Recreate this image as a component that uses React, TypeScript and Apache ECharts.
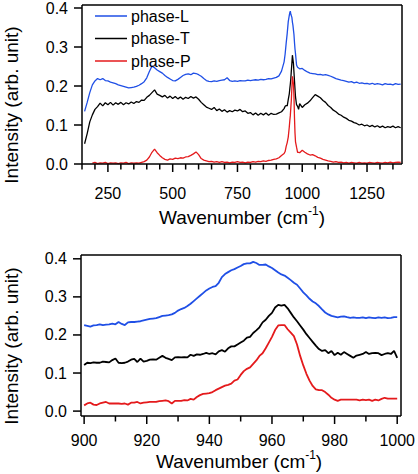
import React, { useEffect, useRef } from "react";
import * as echarts from "echarts";

// ---------- data ----------
const topWavenumbers = [
  160, 170, 180, 190, 200, 210, 220, 230, 240, 250, 260, 270, 280, 290, 300, 310, 320, 330, 340, 350,
  360, 370, 380, 390, 400, 410, 420, 430, 440, 450, 460, 470, 480, 490, 500, 510, 520, 530, 540, 550,
  560, 570, 580, 590, 600, 610, 620, 630, 640, 650, 660, 670, 680, 690, 700, 710, 720, 730, 740, 750,
  760, 770, 780, 790, 800, 810, 820, 830, 840, 850, 860, 870, 880, 890, 900, 910, 920, 930,
  934, 938, 942, 946, 950, 952, 954, 956, 958, 960, 962, 964, 966, 968, 970, 972, 974, 978, 982, 986,
  990, 1000, 1010, 1020, 1030, 1040, 1050, 1060, 1070, 1080, 1090, 1100, 1110, 1120, 1130, 1140, 1150,
  1160, 1170, 1180, 1190, 1200, 1210, 1220, 1230, 1240, 1250, 1260, 1270, 1280, 1290, 1300, 1310, 1320,
  1330, 1340, 1350, 1360, 1370, 1380,
];

const topPhaseL = [
  0.135, 0.158, 0.183, 0.203, 0.213, 0.219, 0.216, 0.219, 0.214, 0.213, 0.21, 0.208, 0.206, 0.203, 0.201, 0.199, 0.197, 0.195, 0.196, 0.197,
  0.199, 0.202, 0.206, 0.211, 0.221, 0.237, 0.251, 0.247, 0.241, 0.237, 0.233, 0.227, 0.222, 0.218, 0.214, 0.213, 0.217, 0.222, 0.227, 0.23,
  0.231, 0.229, 0.233, 0.232, 0.229, 0.225, 0.219, 0.214, 0.212, 0.211, 0.213, 0.212, 0.214, 0.215, 0.216, 0.221, 0.214, 0.212, 0.213, 0.212,
  0.214, 0.213, 0.213, 0.215, 0.214, 0.215, 0.216, 0.215, 0.217, 0.216, 0.217, 0.219, 0.218, 0.22, 0.222, 0.226, 0.238, 0.262,
  0.282, 0.31, 0.335, 0.365, 0.381, 0.388, 0.392, 0.384, 0.385, 0.376, 0.364, 0.356, 0.344, 0.332, 0.312, 0.295, 0.283, 0.254, 0.248, 0.246,
  0.244, 0.245, 0.24, 0.236, 0.233, 0.232, 0.231, 0.229, 0.23, 0.228, 0.229, 0.227, 0.225, 0.222, 0.219, 0.217, 0.215,
  0.214, 0.212, 0.21, 0.211, 0.208, 0.21, 0.207, 0.208, 0.206, 0.207, 0.205, 0.207, 0.204, 0.206, 0.205, 0.203, 0.206,
  0.204, 0.205, 0.203, 0.206, 0.204, 0.205,
];

const topPhaseT = [
  0.052, 0.078, 0.108, 0.126, 0.14, 0.147, 0.156, 0.149, 0.157, 0.152, 0.158, 0.151, 0.157, 0.153, 0.158, 0.152, 0.157, 0.154, 0.159, 0.155,
  0.16, 0.158, 0.164, 0.163, 0.171, 0.176, 0.183, 0.19, 0.179, 0.176, 0.172, 0.176, 0.169, 0.174, 0.168, 0.173, 0.167, 0.172, 0.166, 0.171,
  0.168, 0.173, 0.169, 0.172, 0.166, 0.158, 0.152, 0.146, 0.143, 0.14, 0.145, 0.137, 0.141, 0.135, 0.139, 0.133, 0.137, 0.134, 0.138, 0.136,
  0.14, 0.134, 0.136, 0.13, 0.132, 0.126, 0.131, 0.125, 0.13, 0.126, 0.131, 0.125, 0.13, 0.127, 0.128, 0.131, 0.134, 0.142,
  0.148, 0.15, 0.149, 0.165, 0.18, 0.193, 0.205, 0.22, 0.24, 0.258, 0.279, 0.279, 0.258, 0.236, 0.214, 0.192, 0.172, 0.152, 0.148, 0.14,
  0.155, 0.145, 0.152, 0.156, 0.162, 0.17, 0.178, 0.174, 0.17, 0.163, 0.158, 0.15, 0.145, 0.138, 0.134, 0.128, 0.125,
  0.12, 0.117, 0.112, 0.11, 0.106, 0.104, 0.1, 0.102, 0.098, 0.1, 0.096, 0.099, 0.095, 0.098, 0.094, 0.097, 0.093,
  0.096, 0.094, 0.097, 0.093, 0.096, 0.093,
];

const topPhaseP = [
  null, null, null, 0.002, 0.004, 0.001, 0.003, 0.002, 0.004, 0.001, 0.003, 0.002, 0.003, 0.001, 0.003, 0.002, 0.004, 0.001, 0.003, 0.002,
  0.003, 0.002, 0.004, 0.006, 0.01, 0.018, 0.03, 0.038, 0.029, 0.022, 0.016, 0.012, 0.01, 0.013, 0.012, 0.015, 0.014, 0.016, 0.015, 0.018,
  0.019, 0.022, 0.026, 0.031, 0.024, 0.014, 0.01, 0.008, 0.006, 0.007, 0.005, 0.006, 0.004, 0.006, 0.004, 0.005, 0.003, 0.005, 0.004, 0.006,
  0.004, 0.005, 0.003, 0.005, 0.004, 0.006, 0.005, 0.007, 0.006, 0.008, 0.007, 0.009, 0.01, 0.012, 0.013, 0.016, 0.022, 0.027,
  0.032, 0.045, 0.055, 0.069, 0.095, 0.111, 0.124, 0.145, 0.165, 0.195, 0.225, 0.226, 0.206, 0.175, 0.12, 0.08, 0.057, 0.043, 0.03, 0.03,
  0.029, 0.035, 0.03, 0.026, 0.023, 0.024, 0.021, 0.017, 0.015, 0.012, 0.01, 0.008, 0.007, 0.005, 0.006, 0.004, 0.005,
  0.003, 0.004, 0.002, 0.004, 0.003, 0.002, 0.004, 0.002, 0.003, 0.002, 0.004, 0.003, 0.002, 0.004, 0.003, 0.002, 0.004,
  0.003, 0.005, 0.003, 0.004, 0.005, 0.004,
];

const bottomWavenumbers = [
  900, 901, 902, 903, 904, 905, 906, 907, 908, 909, 910, 911, 912, 913, 914, 915, 916, 917, 918, 919,
  920, 921, 922, 923, 924, 925, 926, 927, 928, 929, 930, 931, 932, 933, 934, 935, 936, 937, 938, 939,
  940, 941, 942, 943, 944, 945, 946, 947, 948, 949, 950, 951, 952, 953, 954, 955, 956, 957, 958, 959,
  960, 961, 962, 963, 964, 965, 966, 967, 968, 969, 970, 971, 972, 973, 974, 975, 976, 977, 978, 979,
  980, 981, 982, 983, 984, 985, 986, 987, 988, 989, 990, 991, 992, 993, 994, 995, 996, 997, 998, 999, 1000,
];

const bottomPhaseL = [
  0.226, 0.224, 0.222, 0.225, 0.226, 0.228, 0.226, 0.227, 0.228, 0.23, 0.228, 0.234, 0.229, 0.226, 0.233, 0.234, 0.234, 0.235, 0.236, 0.238,
  0.24, 0.242, 0.243, 0.244, 0.247, 0.25, 0.251, 0.252, 0.254, 0.258, 0.264, 0.268, 0.271, 0.276, 0.282, 0.289, 0.296, 0.303, 0.31, 0.317,
  0.322, 0.326, 0.328, 0.337, 0.352, 0.36, 0.365, 0.37, 0.373, 0.377, 0.381, 0.386, 0.388, 0.388, 0.392, 0.389, 0.384, 0.384, 0.385, 0.38,
  0.376, 0.37, 0.364, 0.359, 0.356, 0.35, 0.344, 0.337, 0.332, 0.322, 0.312, 0.304, 0.295, 0.288, 0.283, 0.276, 0.267, 0.259, 0.254, 0.25,
  0.248, 0.246, 0.248, 0.249, 0.247, 0.245, 0.246, 0.245, 0.245, 0.246, 0.244, 0.246, 0.245, 0.244, 0.246, 0.245, 0.246, 0.244, 0.245, 0.247, 0.247,
];

const bottomPhaseT = [
  0.121, 0.127, 0.126, 0.128, 0.127, 0.127, 0.13, 0.129, 0.128, 0.134, 0.138, 0.127, 0.126, 0.127, 0.13, 0.135, 0.137, 0.129, 0.138, 0.13,
  0.132, 0.135, 0.136, 0.135, 0.14, 0.145, 0.14, 0.137, 0.134, 0.141, 0.142, 0.141, 0.142, 0.141, 0.148, 0.145, 0.149, 0.148, 0.15, 0.153,
  0.15, 0.152, 0.149, 0.157, 0.16, 0.156, 0.165, 0.17, 0.17, 0.175, 0.18, 0.185, 0.193, 0.195, 0.205, 0.212, 0.22, 0.233, 0.24, 0.25,
  0.258, 0.272, 0.279, 0.277, 0.279, 0.27, 0.258, 0.246, 0.236, 0.225, 0.214, 0.202, 0.192, 0.182, 0.172, 0.163, 0.158, 0.16, 0.152, 0.158,
  0.147, 0.153, 0.148, 0.155, 0.15, 0.145, 0.14, 0.146, 0.148, 0.15, 0.155, 0.15, 0.152, 0.153, 0.152, 0.147, 0.15, 0.152, 0.15, 0.158, 0.14,
];

const bottomPhaseP = [
  0.015, 0.02, 0.022, 0.017, 0.016, 0.02, 0.022, 0.024, 0.02, 0.02, 0.02, 0.02, 0.019, 0.02, 0.017, 0.022, 0.022, 0.024, 0.02, 0.022,
  0.023, 0.024, 0.024, 0.024, 0.026, 0.027, 0.028, 0.026, 0.02, 0.027, 0.027, 0.027, 0.029, 0.028, 0.032, 0.03, 0.037, 0.042, 0.045, 0.046,
  0.047, 0.05, 0.055, 0.059, 0.063, 0.067, 0.069, 0.072, 0.08, 0.083, 0.095, 0.105, 0.111, 0.115, 0.124, 0.133, 0.145, 0.152, 0.165, 0.18,
  0.195, 0.213, 0.225, 0.226, 0.226, 0.215, 0.206, 0.197, 0.175, 0.145, 0.12, 0.098, 0.08, 0.066, 0.057, 0.055, 0.055, 0.05, 0.043, 0.035,
  0.03, 0.027, 0.03, 0.03, 0.03, 0.03, 0.03, 0.03, 0.028, 0.03, 0.029, 0.03, 0.027, 0.03, 0.028, 0.032, 0.035, 0.033, 0.033, 0.033, 0.033,
];

const seriesNames = ["phase-L", "phase-T", "phase-P"];
const seriesColors = ["#1f4fe6", "#000000", "#e41a1c"];

const topXLabels = [250, 500, 750, 1000, 1250];
const topXMinor = [150, 200, 300, 350, 400, 450, 550, 600, 650, 700, 800, 850, 900, 950, 1050, 1100, 1150, 1200, 1300, 1350];
const bottomXLabels = [900, 920, 940, 960, 980, 1000];
const bottomXMinor = [910, 930, 950, 970, 990];
const yLabels = [0, 0.1, 0.2, 0.3, 0.4];

const xTitle = "Wavenumber (cm{sup|-1})";
const yTitle = "Intensity (arb. unit)";

// ---------- layout ----------
const FONT = "Liberation Sans, Arial, Helvetica, sans-serif";

type Panel = {
  left: number; top: number; width: number; height: number;
  xmin: number; xmax: number; ymax: number;
  majors: number[]; minors: number[];
};

const panels: Panel[] = [
  { left: 82, top: 5, width: 320, height: 159, xmin: 150, xmax: 1385, ymax: 0.404, majors: topXLabels, minors: topXMinor },
  { left: 81, top: 255, width: 320, height: 161, xmin: 899, xmax: 1000, ymax: 0.41, majors: bottomXLabels, minors: bottomXMinor },
];

function pairs(xs: number[], ys: (number | null)[]) {
  const out: [number, number][] = [];
  xs.forEach((x, i) => {
    const y = ys[i];
    if (y !== null && y !== undefined) out.push([x, y]);
  });
  return out;
}

function labelX(gridIndex: number, p: Panel, margin: number, nameGap: number) {
  return {
    type: "value", gridIndex, min: p.xmin, max: p.xmax, position: "bottom",
    axisLine: { show: false, onZero: false },
    axisTick: { show: false },
    axisLabel: { color: "#000", fontSize: 16, fontFamily: FONT, margin, customValues: p.majors, formatter: (v: number) => String(v) },
    splitLine: { show: false },
    name: xTitle, nameLocation: "middle", nameGap,
    nameTextStyle: {
      color: "#000", fontSize: 19, fontFamily: FONT, lineHeight: 24,
      rich: { sup: { fontSize: 12, fontFamily: FONT, color: "#000", verticalAlign: "top", lineHeight: 12 } },
    },
  };
}

function leftY(gridIndex: number, p: Panel) {
  return {
    type: "value", gridIndex, min: 0, max: p.ymax, position: "left",
    axisLine: { show: false, onZero: false },
    axisTick: { show: false },
    axisLabel: { color: "#000", fontSize: 16, fontFamily: FONT, margin: 14, customValues: yLabels, formatter: (v: number) => v.toFixed(1) },
    splitLine: { show: false },
  };
}

export default function App() {
  const ref = useRef<HTMLDivElement>(null);

  useEffect(() => {
    if (!ref.current) return;
    const chart = echarts.init(ref.current, null, { renderer: "svg" });

    const topSeriesData = [topPhaseL, topPhaseT, topPhaseP];
    const bottomSeriesData = [bottomPhaseL, bottomPhaseT, bottomPhaseP];

    const series: any[] = [];
    topSeriesData.forEach((ys, i) => {
      series.push({
        type: "line", name: seriesNames[i], xAxisIndex: 0, yAxisIndex: 0,
        data: pairs(topWavenumbers, ys), showSymbol: false,
        lineStyle: { color: seriesColors[i], width: 1.3 }, itemStyle: { color: seriesColors[i] },
      });
    });
    bottomSeriesData.forEach((ys, i) => {
      series.push({
        type: "line", name: seriesNames[i], xAxisIndex: 1, yAxisIndex: 1,
        data: pairs(bottomWavenumbers, ys), showSymbol: false,
        lineStyle: { color: seriesColors[i], width: 1.8 }, itemStyle: { color: seriesColors[i] },
      });
    });

    chart.setOption({
      animation: false,
      backgroundColor: "#fff",
      grid: panels.map((p) => ({ left: p.left, top: p.top, width: p.width, height: p.height })),
      xAxis: [labelX(0, panels[0], 21, 41), labelX(1, panels[1], 21, 33)],
      yAxis: [leftY(0, panels[0]), leftY(1, panels[1])],
      series,
    });

    // frame (layout box) and tick marks, placed through the axis scales when available
    const g: any[] = [];
    panels.forEach((p, idx) => {
      const sx = (v: number) => {
        let r: any = null;
        try { r = chart.convertToPixel({ xAxisIndex: idx } as any, v); } catch (e) { r = null; }
        return typeof r === "number" && isFinite(r) ? r : p.left + ((v - p.xmin) / (p.xmax - p.xmin)) * p.width;
      };
      const sy = (v: number) => {
        let r: any = null;
        try { r = chart.convertToPixel({ yAxisIndex: idx } as any, v); } catch (e) { r = null; }
        return typeof r === "number" && isFinite(r) ? r : p.top + p.height - (v / p.ymax) * p.height;
      };
      const bottom = p.top + p.height;
      const right = p.left + p.width;
      const st = { stroke: "#000000", lineWidth: 1.5 };
      g.push({ type: "line", shape: { x1: p.left, y1: p.top, x2: right, y2: p.top }, style: { ...st }, z: 40 });
      g.push({ type: "line", shape: { x1: p.left, y1: bottom, x2: right, y2: bottom }, style: { ...st }, z: 40 });
      g.push({ type: "line", shape: { x1: p.left, y1: p.top, x2: p.left, y2: bottom }, style: { ...st }, z: 40 });
      g.push({ type: "line", shape: { x1: right, y1: p.top, x2: right, y2: bottom }, style: { ...st }, z: 40 });
      p.majors.forEach((v) => {
        const x = sx(v);
        g.push({ type: "line", shape: { x1: x, y1: bottom, x2: x, y2: bottom + 8 }, style: { ...st }, z: 40 });
      });
      p.minors.forEach((v) => {
        const x = sx(v);
        g.push({ type: "line", shape: { x1: x, y1: bottom, x2: x, y2: bottom + 5.5 }, style: { ...st }, z: 40 });
      });
      yLabels.forEach((v) => {
        const y = sy(v);
        g.push({ type: "line", shape: { x1: p.left - 8, y1: y, x2: p.left, y2: y }, style: { ...st }, z: 40 });
      });
    });

    // legend (line sample + label)
    seriesNames.forEach((name, i) => {
      const cy = 16 + i * 22.5;
      g.push({ type: "line", shape: { x1: 95, y1: cy, x2: 127, y2: cy }, style: { stroke: seriesColors[i], lineWidth: 1.5 }, z: 40 });
      g.push({
        type: "text", x: 131, y: cy, z: 40,
        style: { text: name, fill: "#000", fontSize: 16, fontFamily: FONT, align: "left", verticalAlign: "middle" },
      });
    });

    // y-axis titles
    [105, 346].forEach((cy) => {
      g.push({
        type: "text", x: 11, y: cy, rotation: Math.PI / 2, z: 40,
        style: { text: yTitle, fill: "#000", fontSize: 19, fontFamily: FONT, align: "center", verticalAlign: "middle" },
      });
    });

    chart.setOption({ graphic: g });

    return () => chart.dispose();
  }, []);

  return <div ref={ref} style={{ width: 418, height: 474, position: "absolute", left: 0, top: 0 }} />;
}
